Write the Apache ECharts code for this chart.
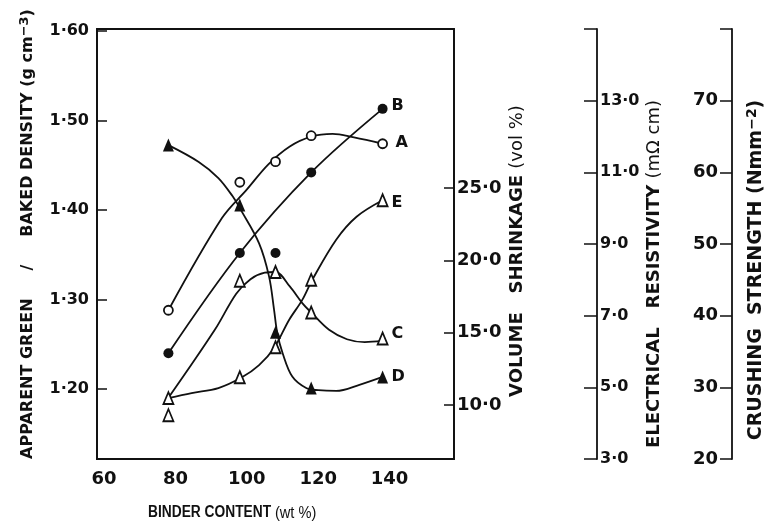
<!DOCTYPE html>
<html>
<head>
<meta charset="utf-8">
<script src="https://cdn.jsdelivr.net/npm/echarts@6/dist/echarts.min.js"></script>
<style>
  html, body { margin: 0; padding: 0; background: #fff; }
  #chart { width: 764px; height: 523px; }
</style>
</head>
<body>
<div id="chart"></div>
<script>
// Measured properties against binder content (wt %)
const binderContent = [80, 100, 110, 120, 140];
const greenDensity = [1.288, 1.431, 1.454, 1.483, 1.474];   // A, g cm-3
const bakedDensity = [1.240, 1.352, 1.352, 1.442, 1.513];   // B, g cm-3
const shrinkage = [9.3, 18.6, 19.2, 16.4, 14.6];             // C, vol %
const resistivity = [11.76, 10.09, 6.54, 4.98, 5.29];        // D, mOhm cm
const crushStrength = [28.5, 31.4, 35.6, 45.0, 56.1];        // E, N mm-2

// Hand-fitted trend curves [binder, value]
const greenCurve = [[80, 1.288], [95, 1.391], [102, 1.423], [108, 1.451], [114, 1.471], [120, 1.482], [126, 1.485], [132, 1.481], [140, 1.474]];
const bakedCurve = [[80, 1.240], [100, 1.352], [120, 1.442], [140, 1.513]];
const shrinkageCurve = [[80, 10.5], [93, 15.2], [99, 17.7], [103, 18.7], [107, 19.15], [110, 19.2], [114, 18.2], [117.5, 17.05], [120, 16.4], [125, 15.2], [130, 14.55], [135, 14.35], [140, 14.45]];
const resistivityCurve = [[80, 11.76], [88.5, 11.29], [94, 10.84], [98, 10.33], [100, 10.0], [105.4, 9.02], [108.2, 8.09], [109.6, 7.16], [110.5, 6.51], [112, 5.95], [114.7, 5.3], [118.6, 4.98], [122, 4.92], [127, 4.90], [133.5, 5.07], [140, 5.29]];
const strengthCurve = [[80, 28.5], [86.5, 29.2], [94, 29.9], [100.6, 31.4], [105.4, 33.1], [109.6, 35.5], [113.8, 39.4], [117.5, 42.2], [120.3, 45.0], [127, 50.6], [132.7, 53.8], [140, 56.1]];

// Tick values
const binderTicks = [60, 80, 100, 120, 140];
const densityTicks = [1.2, 1.3, 1.4, 1.5, 1.6];
const shrinkageTicks = [10, 15, 20, 25];
const resistivityTicks = [3, 5, 7, 9, 11, 13, 15];
const resistivityLabels = [3, 5, 7, 9, 11, 13];
const strengthTicks = [20, 30, 40, 50, 60, 70, 80];
const strengthLabels = [20, 30, 40, 50, 60, 70];

const FONT = 'DejaVu Sans';
const INK = '#111';
const dot = (v, d) => v.toFixed(d).replace('.', '\u00b7');
const pairs = (xs, ys) => xs.map((x, i) => [x, ys[i]]);

function trend(data, yAxisIndex, tag, offset) {
  return {
    type: 'line', data, yAxisIndex, smooth: 0.35,
    symbol: 'none', silent: true, z: 2,
    lineStyle: { color: INK, width: 1.8 },
    endLabel: {
      show: true, formatter: tag, distance: 9, offset,
      color: INK, fontFamily: FONT, fontWeight: 'bold', fontSize: 16
    }
  };
}
function marks(data, yAxisIndex, symbol, size, filled) {
  return {
    type: 'scatter', data, yAxisIndex, symbol, symbolSize: size, z: 5,
    itemStyle: { color: filled ? INK : '#fff', borderColor: INK, borderWidth: filled ? 0 : 1.8, opacity: 1 }
  };
}

const tickLabel = (size) => ({ color: INK, fontFamily: FONT, fontWeight: 'bold', fontSize: size });

const chart = echarts.init(document.getElementById('chart'), null, { renderer: 'canvas' });
chart.setOption({
  animation: false,
  backgroundColor: '#fff',
  grid: { left: 97, top: 29, width: 357, height: 430, show: true, borderColor: INK, borderWidth: 1.8, backgroundColor: 'transparent' },
  xAxis: {
    type: 'value', min: 60, max: 160,
    axisLine: { show: true, lineStyle: { color: INK, width: 1.8 } },
    axisTick: { show: false },
    splitLine: { show: false },
    axisLabel: Object.assign(tickLabel(18), {
      customValues: binderTicks, margin: 11, padding: [0, 0, 0, 14],
      formatter: v => String(v)
    })
  },
  yAxis: [
    {
      type: 'value', position: 'left', min: 1.1218, max: 1.6022,
      axisLine: { show: true, lineStyle: { color: INK, width: 1.8 } },
      axisTick: { show: true, inside: true, length: 10, customValues: densityTicks, lineStyle: { color: INK, width: 1.5 } },
      splitLine: { show: false },
      axisLabel: Object.assign(tickLabel(16), { customValues: densityTicks, margin: 8, formatter: v => dot(v, 2) })
    },
    {
      type: 'value', position: 'right', offset: 0, min: 6.27, max: 36.0,
      axisLine: { show: true, lineStyle: { color: INK, width: 1.8 } },
      axisTick: { show: true, inside: true, length: 10, customValues: shrinkageTicks, lineStyle: { color: INK, width: 1.5 } },
      splitLine: { show: false },
      axisLabel: Object.assign(tickLabel(18), { customValues: shrinkageTicks, margin: 3, formatter: v => dot(v, 1) })
    },
    {
      type: 'value', position: 'right', offset: 143, min: 3, max: 15,
      axisLine: { show: true, lineStyle: { color: INK, width: 1.8 } },
      axisTick: { show: true, inside: true, length: 13, customValues: resistivityTicks, lineStyle: { color: INK, width: 1.5 } },
      splitLine: { show: false },
      axisLabel: Object.assign(tickLabel(16), { customValues: resistivityLabels, margin: 3, formatter: v => dot(v, 1) })
    },
    {
      type: 'value', position: 'right', offset: 278, min: 20, max: 80,
      axisLine: { show: true, lineStyle: { color: INK, width: 1.8 } },
      axisTick: { show: true, inside: true, length: 12, customValues: strengthTicks, lineStyle: { color: INK, width: 1.5 } },
      splitLine: { show: false },
      axisLabel: Object.assign(tickLabel(18), { customValues: strengthLabels, inside: true, margin: 14, formatter: v => String(v) })
    }
  ],
  graphic: [
    {
      type: 'text', x: 28, y: 234, rotation: Math.PI / 2,
      style: {
        text: 'APPARENT GREEN     /     BAKED DENSITY (g cm{sup|\u22123})',
        fill: INK, fontFamily: FONT, fontSize: 16, fontWeight: 'bold', align: 'center', verticalAlign: 'middle',
        rich: {
          sup: { fontFamily: FONT, fontSize: 13, fontWeight: 'bold', verticalAlign: 'top', padding: [0, 0, 6, 0] }
        }
      }
    },
    {
      type: 'text', x: 148, y: 513, scaleX: 0.86,
      style: {
        text: 'BINDER CONTENT {u|(wt %)}',
        fill: INK, fontFamily: 'Liberation Sans', fontSize: 16, fontWeight: 'bold', align: 'left', verticalAlign: 'middle',
        rich: { u: { fontFamily: 'Liberation Sans', fontSize: 17, fontWeight: 'normal' } }
      }
    },
    {
      type: 'text', x: 517, y: 251, rotation: Math.PI / 2,
      style: {
        text: 'VOLUME   SHRINKAGE {u|(vol %)}',
        fill: INK, fontFamily: FONT, fontSize: 18, fontWeight: 'bold', align: 'center', verticalAlign: 'middle',
        rich: { u: { fontFamily: FONT, fontSize: 18, fontWeight: 'normal' } }
      }
    },
    {
      type: 'text', x: 654, y: 274, rotation: Math.PI / 2,
      style: {
        text: 'ELECTRICAL   RESISTIVITY {u|(m\u03a9 cm)}',
        fill: INK, fontFamily: FONT, fontSize: 18, fontWeight: 'bold', align: 'center', verticalAlign: 'middle',
        rich: { u: { fontFamily: FONT, fontSize: 18, fontWeight: 'normal' } }
      }
    },
    {
      type: 'text', x: 756, y: 270, rotation: Math.PI / 2,
      style: {
        text: 'CRUSHING  STRENGTH (Nmm{sup|\u22122})',
        fill: INK, fontFamily: FONT, fontSize: 19, fontWeight: 'bold', align: 'center', verticalAlign: 'middle',
        rich: { sup: { fontFamily: FONT, fontSize: 14, fontWeight: 'bold', verticalAlign: 'top', padding: [0, 0, 7, 0] } }
      }
    }
  ],
  series: [
    trend(greenCurve, 0, 'A', [4, -1]),
    trend(bakedCurve, 0, 'B', [0, -3]),
    trend(shrinkageCurve, 1, 'C', [0, -7]),
    trend(resistivityCurve, 2, 'D', [0, 0]),
    trend(strengthCurve, 3, 'E', [0, 3]),
    marks(pairs(binderContent, greenDensity), 0, 'circle', 9, false),
    marks(pairs(binderContent, bakedDensity), 0, 'circle', 10, true),
    marks(pairs(binderContent, shrinkage), 1, 'triangle', [10, 12], false),
    marks(pairs(binderContent, resistivity), 2, 'triangle', [11, 13], true),
    marks(pairs(binderContent, crushStrength), 3, 'triangle', [10, 12], false)
  ]
});
</script>
</body>
</html>
